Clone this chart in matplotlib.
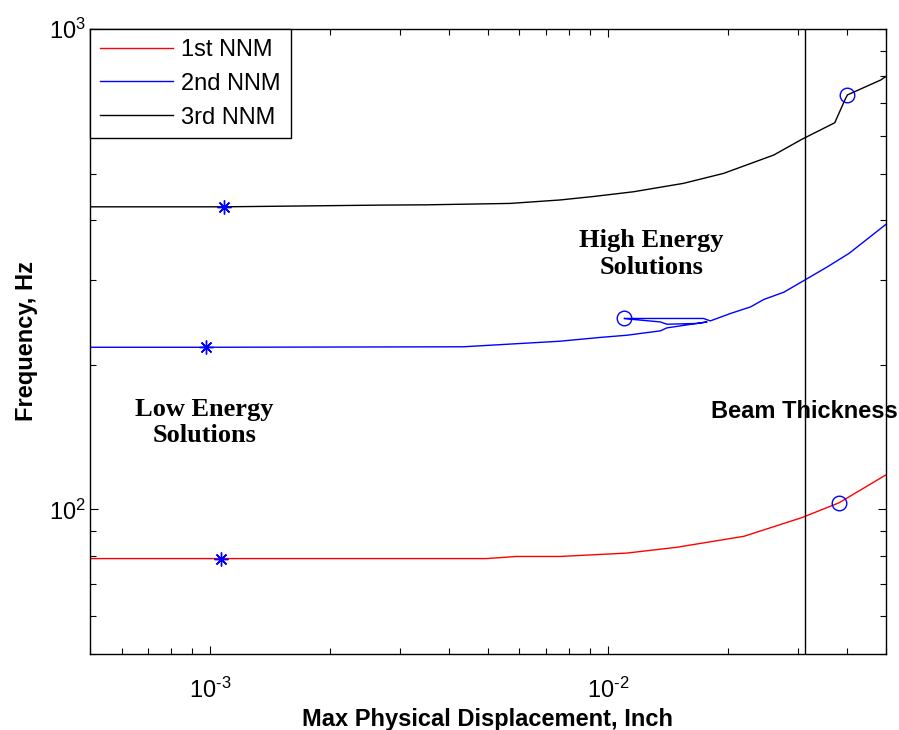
import matplotlib
matplotlib.use("Agg")
import matplotlib.pyplot as plt
from matplotlib.ticker import LogLocator, FuncFormatter
import numpy as np

plt.rcParams["font.family"] = ["Liberation Sans", "DejaVu Sans"]
plt.rcParams["mathtext.fontset"] = "custom"
plt.rcParams["mathtext.rm"] = "Liberation Sans"
plt.rcParams["mathtext.default"] = "regular"

# ---- data (displacement in inch, frequency in Hz) ----
x_1st = [5.0e-4, 1.07e-3, 4.96e-3, 5.9e-3, 7.58e-3, 0.01116, 0.01492, 0.02198,
         0.0307, 0.0381, 0.0501]
f_1st = [79.0, 79.0, 79.0, 79.8, 79.8, 81.1, 83.4, 87.9, 96.1, 103.2, 118.1]

x_2nd = [5.0e-4, 9.8e-4, 4.33e-3, 7.58e-3, 9.56e-3, 0.01116, 0.01355, 0.01408,
         0.01776, 0.01676, 0.01408, 0.01355, 0.0116, 0.01099, 0.0174, 0.0181,
         0.02033, 0.02283, 0.02466, 0.02769, 0.0307, 0.0356, 0.04036, 0.0501]
f_2nd = [217.5, 217.5, 218.0, 223.9, 228.0, 230.4, 235.3, 238.7,
         245.6, 243.8, 242.9, 245.6, 248.5, 249.7, 249.7, 246.8,
         255.7, 263.9, 273.5, 283.2, 297.6, 319.7, 341.0, 392.6]

x_3rd = [5.0e-4, 1.086e-3, 2.67e-3, 3.5e-3, 5.68e-3, 7.58e-3, 9.2e-3, 0.0116,
         0.0155, 0.01954, 0.02612, 0.0307, 0.03718, 0.0394, 0.04, 0.0485, 0.0501]
f_3rd = [426.4, 426.4, 429.9, 430.5, 433.4, 440.6, 448.0, 458.3,
         477.2, 500.5, 546.5, 589.0, 638.0, 711.0, 729.0, 783.0, 797.5]

# low energy (stars) and high energy (circles) solutions
star_x = [1.07e-3, 9.8e-4, 1.086e-3]
star_y = [79.0, 217.5, 426.4]
circ_x = [0.0381, 0.01099, 0.04]
circ_y = [103.2, 249.7, 729.0]

beam_thickness = 1 / 32   # inch


def pow10(v, pos):
    e = int(round(np.log10(v)))
    s = str(e).replace("-", "\u2010")   # short hyphen like the original
    return r"$10^{%s}$" % s


fig = plt.figure(figsize=(8.99, 7.30), dpi=100)
ax = fig.add_axes([0.1001, 0.1041, 0.8854, 0.8562])

ax.plot(x_1st, f_1st, color="red", lw=1.0, label="1st NNM")
ax.plot(x_2nd, f_2nd, color="blue", lw=1.0, label="2nd NNM")
ax.plot(x_3rd, f_3rd, color="black", lw=1.0, label="3rd NNM")
ax.plot(star_x, star_y, ls="none", marker=(8, 2, 0), ms=10, mec="blue",
        mew=1.0)
ax.plot(circ_x, circ_y, ls="none", marker="o", ms=10.5, mfc="none",
        mec="blue", mew=1.0)
ax.axvline(beam_thickness, color="black", lw=1.0)

ax.set_xscale("log")
ax.set_yscale("log")
ax.set_xlim(5e-4, 5e-2)
ax.set_ylim(50, 1000)
ax.xaxis.set_major_locator(LogLocator(base=10, numticks=10))
ax.yaxis.set_major_locator(LogLocator(base=10, numticks=10))
ax.xaxis.set_major_formatter(FuncFormatter(pow10))
ax.yaxis.set_major_formatter(FuncFormatter(pow10))
ax.tick_params(which="both", direction="in", top=True, right=True,
               labelsize=17, width=0.8)
ax.tick_params(which="major", length=6)
ax.tick_params(axis="x", which="major", pad=17)
ax.tick_params(axis="y", which="major", pad=3)
ax.tick_params(which="minor", length=4)
for s in ax.spines.values():
    s.set_linewidth(1.0)

ax.set_xlabel("Max Physical Displacement, Inch", fontsize=17,
              fontweight="bold", labelpad=4)
ax.set_ylabel("Frequency, Hz", fontsize=17, fontweight="bold", labelpad=8)

ax.text(0.01285, 340, "High Energy\nSolutions", ha="center", va="center",
        family="Liberation Serif", fontweight="bold", fontsize=19,
        linespacing=1.2)
ax.text(9.68e-4, 151.8, "Low Energy\nSolutions", ha="center", va="center",
        family="Liberation Serif", fontweight="bold", fontsize=19,
        linespacing=1.2)
ax.text(beam_thickness, 160, "Beam Thickness", ha="center", va="center",
        fontweight="bold", fontsize=17, clip_on=False)

leg = ax.legend(loc="upper left", fontsize=17, fancybox=False, framealpha=1,
                edgecolor="black", borderaxespad=0, handlelength=3.1,
                handletextpad=0.35, labelspacing=0.5, borderpad=0.42)
leg.get_frame().set_linewidth(1.0)

fig.savefig("out.png", dpi=100)
